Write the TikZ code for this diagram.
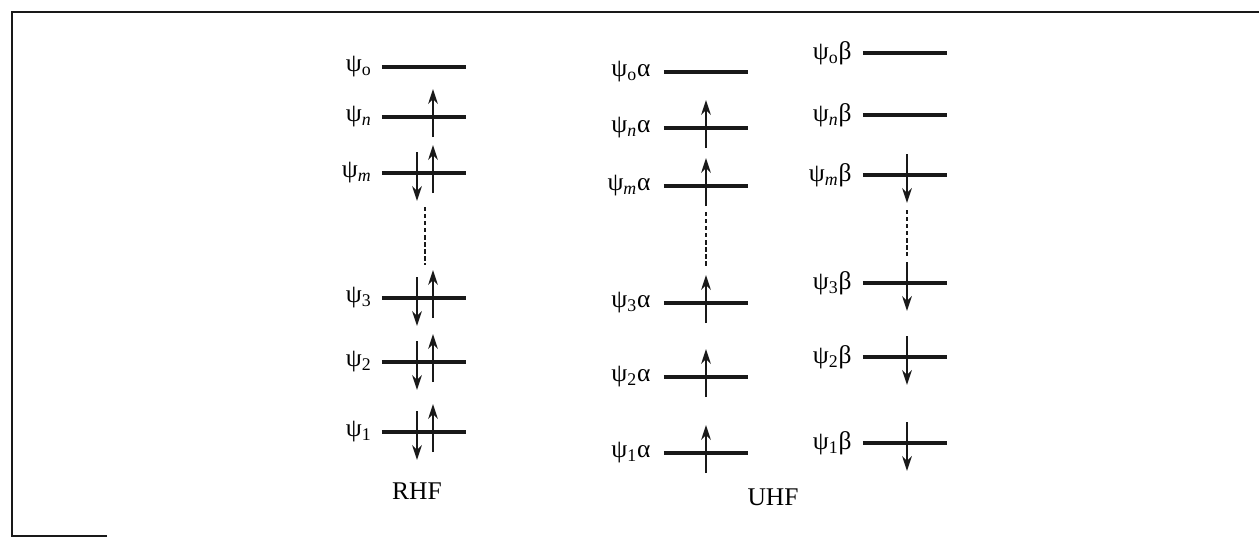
\documentclass[tikz,border=0pt]{standalone}
\usepackage{fontspec}
\setmainfont{Liberation Serif}
\usepackage{tikz}
\usetikzlibrary{arrows.meta}
\usetikzlibrary{positioning}
\definecolor{ColInk}{RGB}{25,25,25}
\tikzstyle{Frame}=[ColInk,line width=1.1pt]
\tikzstyle{Orb}=[inner sep=0pt,minimum width=1.67cm,minimum height=0pt]
\tikzstyle{LevelLine}=[ColInk,line width=2.2pt]
\tikzstyle{OrbLabel}=[inner sep=0pt,font=\fontsize{14.5}{17}\selectfont]
\tikzstyle{Spin}=[ColInk,line width=1.3pt,-{Stealth[length=8.5pt,width=5.5pt]}]
\tikzstyle{GapLine}=[ColInk,line width=0.8pt,dash pattern=on 2.5pt off 1.5pt]
\begin{document}
\begin{tikzpicture}[x=0.02cm,y=-0.02cm]
        \useasboundingbox(0,0)rectangle(1259,539);
        % frame
        \coordinate(fa)at(107,536);
        \coordinate(fb)at(12,536);
        \coordinate(fc)at(12,12);
        \coordinate(fd)at(1259,12);
        \draw[Frame](fa)--(fb)--(fc)--(fd);
        % RHF
        \node[Orb](Ro)at(424,67){};
        \node[Orb](Rn)at(424,117){};
        \node[Orb](Rm)at(424,173){};
        \node[Orb](R3)at(424,298){};
        \node[Orb](R2)at(424,362){};
        \node[Orb](R1)at(424,432){};
        \node[OrbLabel,left=0.2cm of Ro]{ψ\textsubscript{o}};
        \node[OrbLabel,left=0.2cm of Rn]{ψ\textsubscript{\textit{n}}};
        \node[OrbLabel,left=0.2cm of Rm]{ψ\textsubscript{\textit{m}}};
        \node[OrbLabel,left=0.2cm of R3]{ψ\textsubscript{3}};
        \node[OrbLabel,left=0.2cm of R2]{ψ\textsubscript{2}};
        \node[OrbLabel,left=0.2cm of R1]{ψ\textsubscript{1}};
        % UHF alpha
        \node[Orb](Ao)at(706,72){};
        \node[Orb](An)at(706,128){};
        \node[Orb](Am)at(706,186){};
        \node[Orb](A3)at(706,303){};
        \node[Orb](A2)at(706,377){};
        \node[Orb](A1)at(706,453){};
        \node[OrbLabel,left=0.26cm of Ao]{ψ\textsubscript{o}α};
        \node[OrbLabel,left=0.26cm of An]{ψ\textsubscript{\textit{n}}α};
        \node[OrbLabel,left=0.26cm of Am]{ψ\textsubscript{\textit{m}}α};
        \node[OrbLabel,left=0.26cm of A3]{ψ\textsubscript{3}α};
        \node[OrbLabel,left=0.26cm of A2]{ψ\textsubscript{2}α};
        \node[OrbLabel,left=0.26cm of A1]{ψ\textsubscript{1}α};
        % UHF beta
        \node[Orb](Bo)at(905,53){};
        \node[Orb](Bn)at(905,115){};
        \node[Orb](Bm)at(905,175){};
        \node[Orb](B3)at(905,283){};
        \node[Orb](B2)at(905,357){};
        \node[Orb](B1)at(905,443){};
        \node[OrbLabel,left=0.22cm of Bo]{ψ\textsubscript{o}β};
        \node[OrbLabel,left=0.22cm of Bn]{ψ\textsubscript{\textit{n}}β};
        \node[OrbLabel,left=0.22cm of Bm]{ψ\textsubscript{\textit{m}}β};
        \node[OrbLabel,left=0.22cm of B3]{ψ\textsubscript{3}β};
        \node[OrbLabel,left=0.22cm of B2]{ψ\textsubscript{2}β};
        \node[OrbLabel,left=0.22cm of B1]{ψ\textsubscript{1}β};
        \foreach \k in {Ro,Rn,Rm,R3,R2,R1,Ao,An,Am,A3,A2,A1,Bo,Bn,Bm,B3,B2,B1}
            \draw[LevelLine](\k.west)--(\k.east);
        % electrons
        \foreach \k/\dx in {Rn/9,Rm/9,R3/9,R2/9,R1/9,An/0,Am/0,A3/0,A2/0,A1/0}{
            \coordinate(\k-uA)at([shift={(\dx,20)}]\k.center);
            \coordinate(\k-uB)at([shift={(\dx,-28)}]\k.center);
            \draw[Spin](\k-uA)--(\k-uB);}
        \foreach \k/\dx in {Rm/-7,R3/-7,R2/-7,R1/-7,Bm/2,B3/2,B2/2,B1/2}{
            \coordinate(\k-dA)at([shift={(\dx,-21)}]\k.center);
            \coordinate(\k-dB)at([shift={(\dx,28)}]\k.center);
            \draw[Spin](\k-dA)--(\k-dB);}
        % omitted levels
        \coordinate(Rgap-a)at(425,207);
        \coordinate(Rgap-b)at(425,265);
        \coordinate(Agap-a)at(706,212);
        \coordinate(Agap-b)at(706,266);
        \coordinate(Bgap-a)at(907,210);
        \coordinate(Bgap-b)at(907,256);
        \draw[GapLine](Rgap-a)--(Rgap-b);
        \draw[GapLine](Agap-a)--(Agap-b);
        \draw[GapLine](Bgap-a)--(Bgap-b);
        \node[OrbLabel](rhf)at(417,491){RHF};
        \node[OrbLabel](uhf)at(773,497){UHF};
    \end{tikzpicture}
\end{document}
